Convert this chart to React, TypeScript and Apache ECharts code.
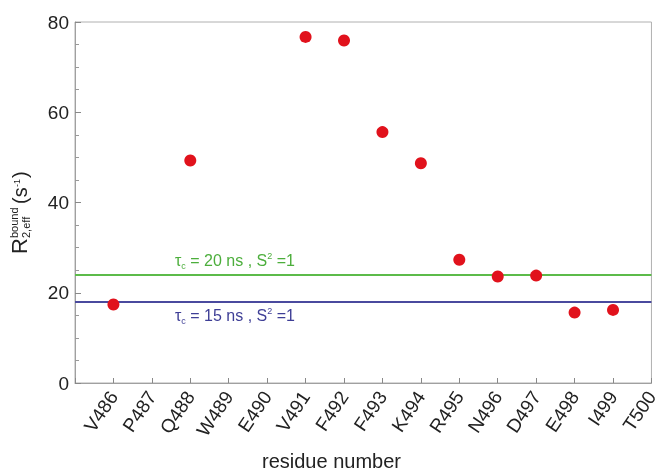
import React, { useEffect, useRef } from "react";
import * as echarts from "echarts";

const residueNumbers = [486, 487, 488, 489, 490, 491, 492, 493, 494, 495, 496, 497, 498, 499, 500];
const residueLabels = ["V486", "P487", "Q488", "W489", "E490", "V491", "F492", "F493", "K494", "R495", "N496", "D497", "E498", "I499", "T500"];
const pointResidues = [486, 488, 491, 492, 493, 494, 495, 496, 497, 498, 499];
const pointValues = [17.4, 49.3, 76.7, 75.9, 55.6, 48.7, 27.3, 23.6, 23.8, 15.6, 16.2];
const refTau20 = 24;
const refTau15 = 18;
const yTicks = [0, 20, 40, 60, 80];

export default function App() {
  const ref = useRef<HTMLDivElement>(null);
  useEffect(() => {
    if (!ref.current) return;
    const chart = echarts.init(ref.current, null, { renderer: "svg" });
    const font = "Liberation Sans, Arial, Helvetica, sans-serif";
    const labelMap: Record<number, string> = {};
    residueNumbers.forEach((n, i) => (labelMap[n] = residueLabels[i]));
    const annRich = (color: string) => ({
      t: { fontSize: 16, fill: color, fontFamily: font, verticalAlign: "middle" as const },
      sub: { fontSize: 9, fill: color, fontFamily: font, verticalAlign: "bottom" as const, padding: [10, 0, 0, 0] },
      sup: { fontSize: 9, fill: color, fontFamily: font, verticalAlign: "top" as const, padding: [0, 0, 8, 0] },
    });
    chart.setOption({
      animation: false,
      grid: { left: 75, right: 2, top: 22, bottom: 89, show: true, borderColor: "#b0b0b0", borderWidth: 1 },
      xAxis: {
        type: "value",
        min: 485,
        max: 500,
        interval: 1,
        splitLine: { show: false },
        axisLine: { show: true, onZero: false, lineStyle: { color: "#a0a0a0" } },
        axisTick: { show: true, inside: true, length: 5, lineStyle: { color: "#888" } },
        axisLabel: {
          rotate: 56,
          fontSize: 19,
          color: "#222",
          fontFamily: font,
          margin: 10,
          formatter: (v: number) => labelMap[v] || "",
        },
      },
      yAxis: {
        type: "value",
        min: yTicks[0],
        max: yTicks[yTicks.length - 1],
        interval: 20,
        splitLine: { show: false },
        axisLine: { show: true, lineStyle: { color: "#a0a0a0" } },
        axisTick: { show: true, inside: true, length: 6, lineStyle: { color: "#888" } },
        minorTick: { show: true, splitNumber: 4, length: 4, lineStyle: { color: "#999" } },
        axisLabel: { fontSize: 19, color: "#222", fontFamily: font, margin: 6 },
      },
      series: [
        {
          type: "scatter",
          data: pointResidues.map((r, i) => [r, pointValues[i]]),
          symbolSize: 12,
          itemStyle: { color: "#e1121c", opacity: 1 },
          z: 5,
          markLine: {
            silent: true,
            symbol: "none",
            label: { show: false },
            data: [
              { yAxis: refTau20, lineStyle: { color: "#5cbb4a", width: 2, type: "solid" } },
              { yAxis: refTau15, lineStyle: { color: "#4a4a9e", width: 2, type: "solid" } },
            ],
          },
        },
      ],
      graphic: [
        {
          type: "text",
          left: 175,
          top: 251,
          style: {
            text: "{t|τ}{sub|c}{t| = 20 ns , S}{sup|2}{t| =1}",
            rich: annRich("#4cae3c"),
          },
        },
        {
          type: "text",
          left: 175,
          top: 306,
          style: {
            text: "{t|τ}{sub|c}{t| = 15 ns , S}{sup|2}{t| =1}",
            rich: annRich("#3e3e96"),
          },
        },
        {
          type: "text",
          left: 262,
          top: 451,
          style: { text: "residue number", fontSize: 20, fill: "#222", fontFamily: font },
        },
        {
          type: "group",
          x: 30,
          y: 254,
          rotation: Math.PI / 2,
          children: [
            { type: "text", x: 0, y: 0, style: { text: "R", fontSize: 22, fill: "#222", fontFamily: font, verticalAlign: "bottom" } },
            { type: "text", x: 16, y: -11, style: { text: "bound", fontSize: 11, fill: "#222", fontFamily: font, verticalAlign: "bottom" } },
            { type: "text", x: 16, y: 1, style: { text: "2,eff", fontSize: 11, fill: "#222", fontFamily: font, verticalAlign: "bottom" } },
            { type: "text", x: 50, y: 0, style: { text: "(s", fontSize: 20, fill: "#222", fontFamily: font, verticalAlign: "bottom" } },
            { type: "text", x: 67, y: -9, style: { text: "-1", fontSize: 9, fill: "#222", fontFamily: font, verticalAlign: "bottom" } },
            { type: "text", x: 76, y: 0, style: { text: ")", fontSize: 20, fill: "#222", fontFamily: font, verticalAlign: "bottom" } },
          ],
        },
      ],
    });
    return () => chart.dispose();
  }, []);
  return <div ref={ref} style={{ position: "fixed", left: 0, top: 0, width: 661, height: 472 }} />;
}
